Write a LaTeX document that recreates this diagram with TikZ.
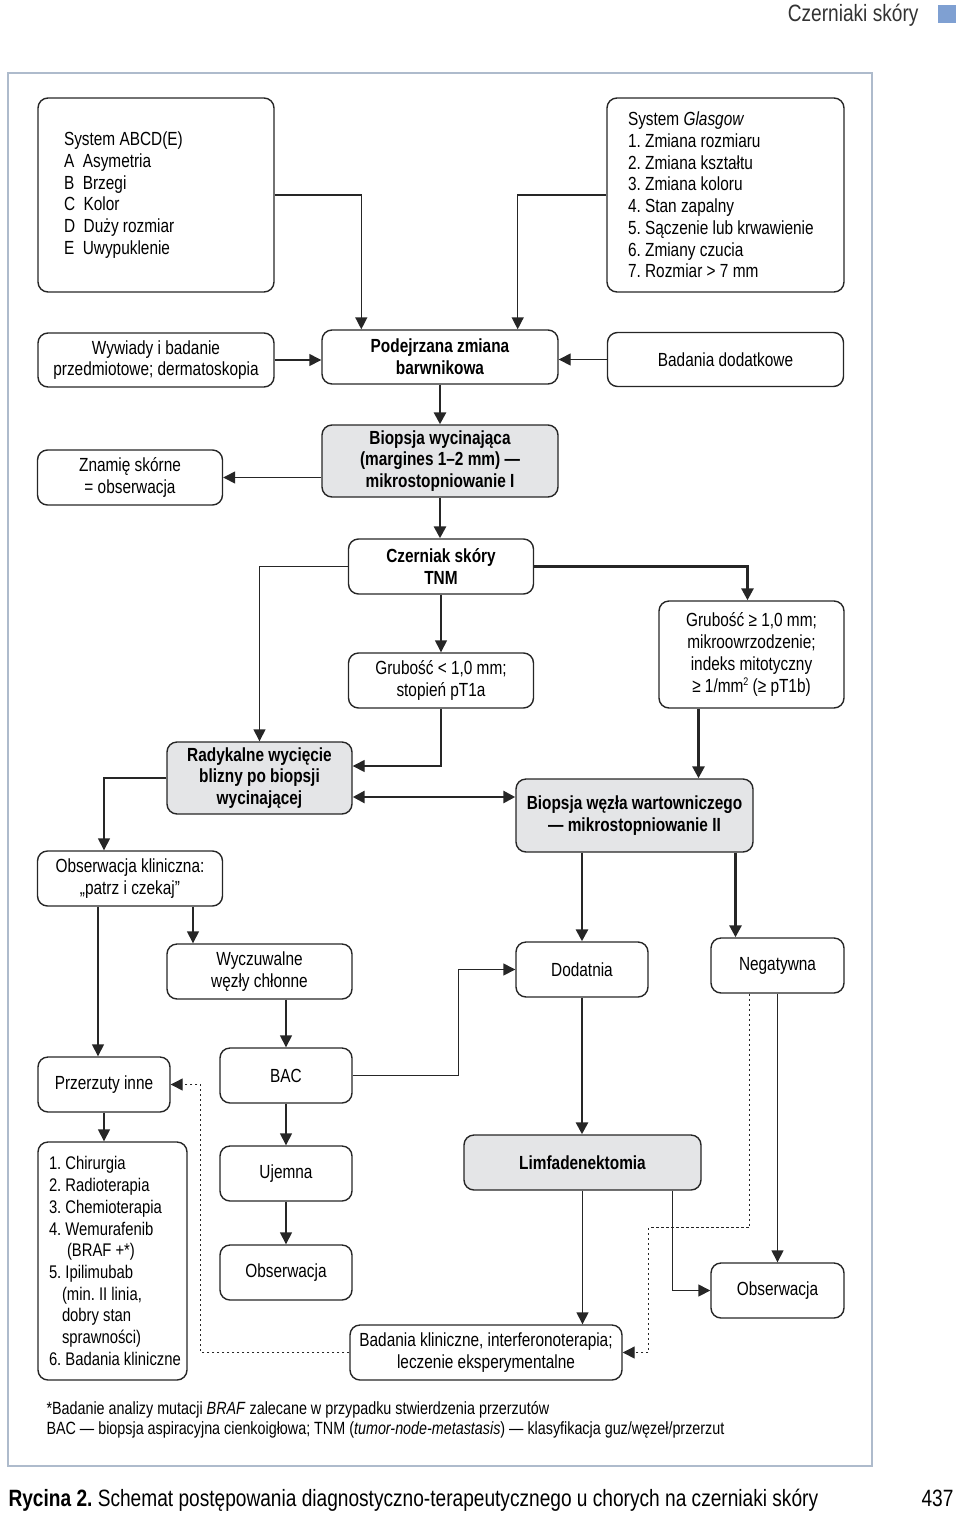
\documentclass[tikz,border=0pt]{standalone}
\usepackage{fontspec}
\setmainfont[FakeStretch=0.81]{Liberation Sans}
\usetikzlibrary{arrows.meta}
\definecolor{boxgrey}{HTML}{E4E5E7}
\definecolor{framec}{HTML}{AEBBCC}
\definecolor{markc}{HTML}{7FA0D2}
\frenchspacing
\newcommand\boxfont{\fontsize{19}{21.7}\selectfont}
\newcommand\listfont{\fontsize{18.3}{21.7}\selectfont}
\newcommand\notefont{\fontsize{17.7}{20}\selectfont}
\newcommand\capfont{\fontsize{23.6}{27}\selectfont}
\newcommand\supnum[1]{\raisebox{7pt}{\fontsize{11}{11}\selectfont #1}}
\tikzset{
    box/.style={draw=black!85, line width=1.4pt, rounded corners=10pt, align=center, inner sep=0pt, font=\boxfont},
    listbox/.style={box, align=flush left},
    wide/.style={box, minimum width=236pt, minimum height=54pt},
    mid/.style={box, minimum width=185pt, minimum height=55pt},
    small/.style={box, minimum width=132pt, minimum height=55pt},
    bold/.style={font=\boxfont\bfseries},
    grey/.style={bold, fill=boxgrey},
    arr/.style={-{Triangle[length=12pt,width=12pt]}, line width=1.4pt, draw=black!85},
    thickarr/.style={arr, line width=2.8pt},
    dotarr/.style={arr, line width=1.2pt, dash pattern=on 2.5pt off 2.5pt}
}
\begin{document}
\begin{tikzpicture}[x=1pt,y=-1pt]
    \useasboundingbox (0,0) rectangle (960,1513);

    % Frame and header
    % ----------------
    \draw[framec, line width=1.2pt] (8,73) rectangle (872,1466);
    \node[anchor=east, font=\capfont, text=black!80] (head) at (922,15) {Czerniaki skóry};
    \fill[markc] (938,5) rectangle (956,23);

    % 1st Row
    % -------
    \node[listbox, minimum width=236pt, minimum height=194pt, text width=184pt] (abcd) at (156,195)
        {System ABCD(E)\\A~~Asymetria\\B~~Brzegi\\C~~Kolor\\D~~Duży rozmiar\\E~~Uwypuklenie};
    \node[listbox, minimum width=237pt, minimum height=194pt, text width=195pt] (glas) at (725.5,195)
        {System \textit{Glasgow}\\1. Zmiana rozmiaru\\2. Zmiana kształtu\\3. Zmiana koloru\\4. Stan zapalny\\5. Sączenie lub krwawienie\\6. Zmiany czucia\\7. Rozmiar > 7 mm};

    % 2nd Row
    % -------
    \node[wide] (wyw) at (156,360) {Wywiady i badanie\\przedmiotowe; dermatoskopia};
    \node[wide, bold] (podej) at (440,357) {Podejrzana zmiana\\barwnikowa};
    \node[wide] (dod) at (725.5,359.5) {Badania dodatkowe};

    % 3rd Row
    % -------
    \node[mid] (znam) at (130,477.5) {Znamię skórne\\= obserwacja};
    \node[wide, grey, minimum height=72pt] (biop) at (440,461) {Biopsja wycinająca\\(margines 1–2 mm) —\\mikrostopniowanie I};

    % 4th Row
    % -------
    \node[mid, bold] (czer) at (441,566.5) {Czerniak skóry\\TNM};
    \node[mid] (grub1) at (441,680.5) {Grubość < 1,0 mm;\\stopień pT1a};
    \node[mid, minimum height=107pt] (grub2) at (751.5,654.5) {Grubość ≥ 1,0 mm;\\mikroowrzodzenie;\\indeks mitotyczny\\≥ 1/mm\supnum{2} (≥ pT1b)};

    % 5th Row
    % -------
    \node[mid, grey, minimum height=72pt] (rady) at (259.5,778) {Radykalne wycięcie\\blizny po biopsji\\wycinającej};
    \node[wide, grey, minimum width=237pt, minimum height=73pt] (wez) at (634.5,815.5) {Biopsja węzła wartowniczego\\— mikrostopniowanie II};
    \node[mid] (obskl) at (130,878.5) {Obserwacja kliniczna:\\„patrz i czekaj”};

    % 6th Row
    % -------
    \node[mid] (wycz) at (259.5,971.5) {Wyczuwalne\\węzły chłonne};
    \node[small] (dodat) at (582,969.5) {Dodatnia};
    \node[small, minimum width=133pt] (neg) at (777.5,965.5) {Negatywna};
    \node[small] (przerz) at (104,1084.5) {Przerzuty inne};
    \node[small] (bac) at (286,1075.5) {BAC};

    % 7th Row
    % -------
    \node[listbox, font=\listfont, minimum width=149pt, minimum height=238pt, text width=127pt] (lista) at (112.5,1261)
        {1. Chirurgia\\2. Radioterapia\\3. Chemioterapia\\4. Wemurafenib\\\hspace*{18pt}(BRAF~+*)\\5. Ipilimubab\\\hspace*{13pt}(min. II linia,\\\hspace*{13pt}dobry stan\\\hspace*{13pt}sprawności)\\\mbox{6. Badania kliniczne}};
    \node[small] (ujem) at (286,1173.5) {Ujemna};
    \node[small] (obs1) at (286,1272.5) {Obserwacja};
    \node[wide, grey, minimum width=237pt, minimum height=55pt] (limf) at (582.5,1162.5) {Limfadenektomia};
    \node[small, minimum width=133pt] (obs2) at (777.5,1290.5) {Obserwacja};
    \node[box, minimum width=272pt, minimum height=55pt] (badkl) at (486,1352.5) {Badania kliniczne, interferonoterapia;\\leczenie eksperymentalne};

    % Draw Paths
    % ----------
    \draw[arr] (abcd.east) -| ([xshift=40pt]podej.north west);
    \draw[arr] (glas.west) -| ([xshift=-41pt]podej.north east);
    \draw[arr] (wyw.east) -- (wyw.east -| podej.west);
    \draw[arr] (dod.west) -- (dod.west -| podej.east);
    \draw[thickarr] (podej.south) -- (biop.north);
    \draw[arr] (biop.west |- znam.east) -- (znam.east);
    \draw[thickarr] (biop.south) -- (biop.south |- czer.north);
    \draw[arr] (czer.west) -| (rady.north);
    \draw[arr] (czer.south) -- (grub1.north);
    \draw[thickarr] (czer.east) -| ([xshift=-4pt]grub2.north);
    \draw[arr] (grub1.south) |- ([yshift=12pt]rady.east);
    \draw[thickarr, {Triangle[length=12pt,width=12pt]}-{Triangle[length=12pt,width=12pt]}]
        ([yshift=-19pt]rady.east) -- ([yshift=-19pt]rady.east -| wez.west);
    \draw[thickarr] ([xshift=-53pt]grub2.south) -- ([xshift=-53pt]grub2.south |- wez.north);
    \draw[arr] (rady.west) -| ([xshift=-26pt]obskl.north);
    \draw[arr] ([xshift=-32pt]obskl.south) -- ([xshift=-32pt]obskl.south |- przerz.north);
    \draw[arr] ([xshift=63pt]obskl.south) -- ([xshift=63pt]obskl.south |- wycz.north);
    \draw[arr] (bac.north |- wycz.south) -- (bac.north);
    \draw[arr] (bac.south) -- (ujem.north);
    \draw[arr] (ujem.south) -- (obs1.north);
    \draw[arr] (przerz.south) -- (przerz.south |- lista.north);
    \draw[arr] (bac.east) -| ([xshift=-57pt]dodat.west) -- (dodat.west);
    \draw[thickarr] (dodat.north |- wez.south) -- (dodat.north);
    \draw[thickarr] ([xshift=-42pt]neg.north |- wez.south) -- ([xshift=-42pt]neg.north);
    \draw[thickarr] (dodat.south) -- (dodat.south |- limf.north);
    \draw[arr] (neg.south) -- (obs2.north);
    \draw[arr] ([xshift=90pt]limf.south) |- (obs2.west);
    \draw[arr] (limf.south) -- (limf.south |- badkl.north);
    \draw[dotarr] ([xshift=-28pt]neg.south) -- ++(0,234) -| ([xshift=26pt]badkl.east) -- (badkl.east);
    \draw[dotarr] (badkl.west) -| ([xshift=30pt]przerz.east) -- (przerz.east);

    % Labels
    % ------
    \node[anchor=west, font=\notefont] (note1) at (43,1410) {*Badanie analizy mutacji \textit{BRAF} zalecane w przypadku stwierdzenia przerzutów};
    \node[anchor=west, font=\notefont] (note2) at (43,1430) {BAC — biopsja aspiracyjna cienkoigłowa; TNM (\textit{tumor-node-metastasis}) — klasyfikacja guz/węzeł/przerzut};
    \node[anchor=west, font=\capfont] (capt) at (5,1500) {\textbf{Rycina 2.} Schemat postępowania diagnostyczno-terapeutycznego u chorych na czerniaki skóry};
    \node[anchor=east, font=\capfont] (page) at (957,1498) {437};

\end{tikzpicture}
\end{document}
